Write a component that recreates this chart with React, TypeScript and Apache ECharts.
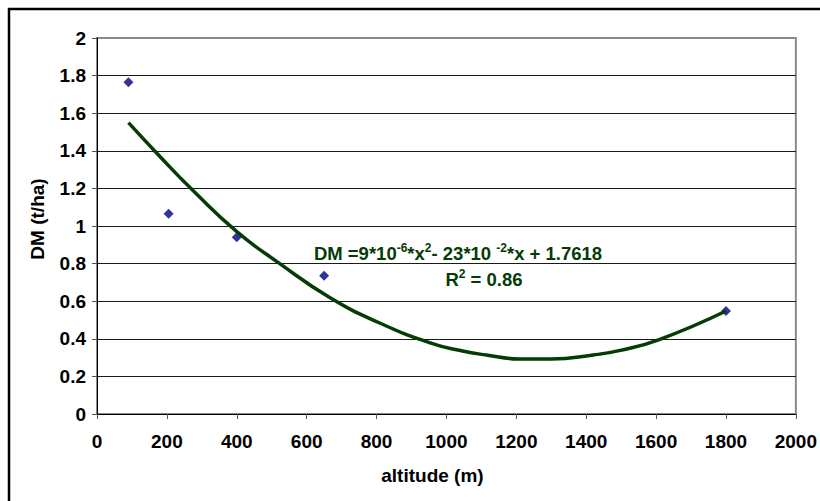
import React, { useEffect, useRef } from "react";
import * as echarts from "echarts";

const altitude = [90, 205, 400, 650, 1800];
const dmValues = [1.765, 1.065, 0.94, 0.735, 0.548];

const trendX = [90, 180, 274, 400, 523, 666, 809, 951, 1046, 1114, 1209, 1300, 1420, 1494, 1609, 1800];
const trendY = [1.55, 1.37, 1.19, 0.97, 0.8, 0.62, 0.484, 0.38, 0.335, 0.314, 0.293, 0.293, 0.314, 0.337, 0.396, 0.548];

const FONT = "'Liberation Sans', Arial, sans-serif";
const GREEN = "#053b05";

export default function App() {
  const ref = useRef<HTMLDivElement>(null);
  useEffect(() => {
    if (!ref.current) return;
    const chart = echarts.init(ref.current, undefined, { renderer: "svg" });
    chart.setOption({
      animation: false,
      backgroundColor: "#ffffff",
      grid: {
        left: 97,
        right: 23,
        top: 38,
        bottom: 87,
        show: true,
        borderColor: "#8a8a8a",
        borderWidth: 2,
        backgroundColor: "transparent",
      },
      xAxis: {
        type: "value",
        min: 0,
        max: 2000,
        interval: 200,
        name: "altitude (m)",
        nameLocation: "middle",
        nameGap: 52,
        nameTextStyle: {
          fontFamily: FONT,
          fontWeight: "bold",
          fontSize: 19,
          color: "#000",
          padding: [0, 28, 0, 0],
        },
        axisLine: { show: true, lineStyle: { color: "#000", width: 1 } },
        axisTick: { show: true, length: 5, lineStyle: { color: "#555" } },
        axisLabel: {
          fontFamily: FONT,
          fontWeight: "bold",
          fontSize: 19,
          color: "#000",
          margin: 18,
          formatter: (v: number) => String(v),
        },
        splitLine: { show: false },
      },
      yAxis: {
        type: "value",
        min: 0,
        max: 2,
        interval: 0.2,
        name: "DM (t/ha)",
        nameLocation: "middle",
        nameGap: 50,
        nameRotate: 90,
        nameTextStyle: {
          fontFamily: FONT,
          fontWeight: "bold",
          fontSize: 19,
          color: "#000",
          padding: [0, 0, 0, 14],
        },
        axisLine: { show: true, lineStyle: { color: "#000", width: 1 } },
        axisTick: { show: true, length: 5, lineStyle: { color: "#555" } },
        axisLabel: {
          fontFamily: FONT,
          fontWeight: "bold",
          fontSize: 19,
          color: "#000",
          margin: 11,
        },
        splitLine: {
          show: true,
          showMinLine: false,
          showMaxLine: false,
          lineStyle: { color: "#1a1a1a", width: 1 },
        },
      },
      series: [
        {
          type: "scatter",
          data: altitude.map((a, i) => [a, dmValues[i]]),
          symbol: "diamond",
          symbolSize: 10,
          itemStyle: { color: "#000080" },
          z: 2,
        },
        {
          type: "line",
          data: trendX.map((a, i) => [a, trendY[i]]),
          smooth: 0.5,
          showSymbol: false,
          symbol: "none",
          lineStyle: { color: GREEN, width: 3.5 },
          z: 3,
        },
      ],
      graphic: [
        {
          type: "rect",
          shape: { x: 9, y: 9, width: 900, height: 600 },
          style: { fill: "none", stroke: "#000", lineWidth: 2.5 },
          silent: true,
        },
        {
          type: "text",
          x: 458,
          y: 253,
          z: 10,
          style: {
            text: "{n|DM =9*10}{s|-6}{n|*x}{s|2}{n|- 23*10 }{s|-2}{n|*x + 1.7618}",
            align: "center",
            verticalAlign: "middle",
            rich: {
              n: { fontFamily: FONT, fontWeight: "bold", fontSize: 18.5, fill: GREEN, lineHeight: 22 },
              s: { fontFamily: FONT, fontWeight: "bold", fontSize: 12, fill: GREEN, lineHeight: 13, verticalAlign: "top" },
            },
          },
        },
        {
          type: "text",
          x: 484,
          y: 279,
          z: 10,
          style: {
            text: "{n|R}{s|2}{n| = 0.86}",
            align: "center",
            verticalAlign: "middle",
            rich: {
              n: { fontFamily: FONT, fontWeight: "bold", fontSize: 18.5, fill: GREEN, lineHeight: 22 },
              s: { fontFamily: FONT, fontWeight: "bold", fontSize: 12, fill: GREEN, lineHeight: 13, verticalAlign: "top" },
            },
          },
        },
      ],
    });
    return () => chart.dispose();
  }, []);
  return (
    <div
      ref={ref}
      style={{ position: "absolute", left: 0, top: 0, width: 820, height: 501 }}
    />
  );
}
